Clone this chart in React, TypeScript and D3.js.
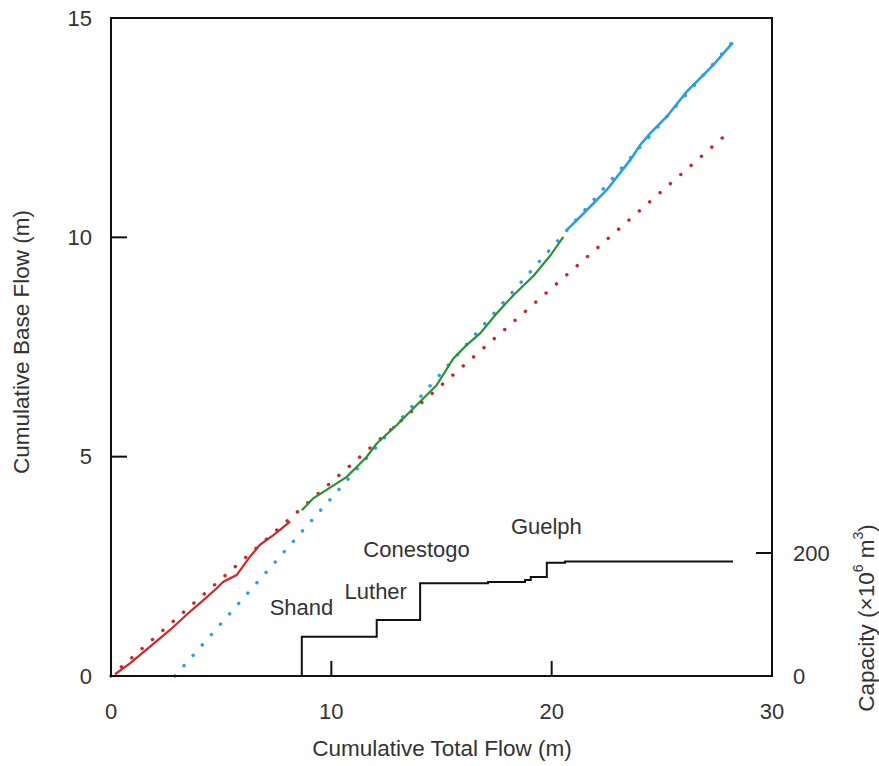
import * as d3 from 'd3';

// Solid series (cumulative total flow, cumulative base flow)
const redX = [0.18, 0.86, 1.77, 2.68, 3.59, 4.04, 4.8, 5.1, 5.7, 6.31, 6.76, 7.37, 8.13];
const redY = [0.04, 0.29, 0.67, 1.05, 1.47, 1.66, 2.0, 2.15, 2.3, 2.72, 2.99, 3.21, 3.52];

const greenX = [8.66, 9.18, 10.7, 11.61, 12.06, 12.97, 13.42, 14.18, 14.78, 15.54, 16.15, 16.75, 17.51, 18.26, 19.17, 19.93, 20.53];
const greenY = [3.78, 4.05, 4.54, 5.0, 5.3, 5.72, 5.95, 6.33, 6.63, 7.24, 7.55, 7.81, 8.27, 8.68, 9.12, 9.58, 10.01];

const blueX = [20.69, 21.14, 22.5, 23.56, 24.01, 24.47, 25.22, 26.13, 27.34, 28.22];
const blueY = [10.17, 10.39, 11.08, 11.76, 12.1, 12.37, 12.75, 13.32, 13.93, 14.44];

// Dotted fitted lines (end points)
const redFitX = [0, 28.0];
const redFitY = [0, 12.38];
const blueFitX = [2.9, 28.2];
const blueFitY = [0, 14.45];

// Reservoir capacity staircase (x10^6 m3)
const capX = [8.66, 8.66, 12.06, 14.03, 17.11, 18.79, 19.05, 19.78, 20.61, 28.23];
const capY = [0, 64, 91, 151, 153, 156, 161, 184, 186, 186];

const reservoirs = ['Shand', 'Luther', 'Conestogo', 'Guelph'];

const xTicks = [0, 10, 20, 30];
const yTicks = [0, 5, 10, 15];
const capTicks = [0, 200];

const W = 879;
const H = 766;
const left = 111;
const right = 772;
const top = 18;
const bottom = 676;

const font = '"Liberation Sans", Arial, sans-serif';
const textColor = '#333';

const App = () => {
  const x = d3.scaleLinear().domain([0, 30]).range([left, right]);
  const y = d3.scaleLinear().domain([0, 15]).range([bottom, top]);
  const cap = d3.scaleLinear().domain([0, 200]).range([bottom, 553]);

  const line = d3
    .line<[number, number]>()
    .x((d) => x(d[0]))
    .y((d) => y(d[1]));

  const zip = (a: number[], b: number[]) => a.map((v, i) => [v, b[i]] as [number, number]);

  const stepLine = d3
    .line<[number, number]>()
    .x((d) => x(d[0]))
    .y((d) => cap(d[1]))
    .curve(d3.curveStepAfter);

  // label anchors (data space, x in total flow, y in capacity)
  const labelPos: [number, number][] = [
    [7.2, 99],
    [10.6, 126],
    [11.45, 193],
    [18.15, 231],
  ];

  const dotted = {
    fill: 'none',
    strokeWidth: 3.4,
    strokeLinecap: 'round' as const,
    strokeDasharray: '0.1 13.7',
  };

  return (
    <svg width={W} height={H} style={{ position: 'absolute', left: 0, top: 0 }} fontFamily={font}>
      <rect width={W} height={H} fill="white" />

      {/* dotted fits */}
      <path d={line(zip(redFitX, redFitY)) ?? ''} stroke="#c9262c" {...dotted} />
      <path d={line(zip(blueFitX, blueFitY)) ?? ''} stroke="#2b9fe0" {...dotted} />

      {/* solid series */}
      <path d={line(zip(redX, redY)) ?? ''} fill="none" stroke="#d1262b" strokeWidth={2.2} />
      <path d={line(zip(greenX, greenY)) ?? ''} fill="none" stroke="#2a9234" strokeWidth={2.2} />
      <path d={line(zip(blueX, blueY)) ?? ''} fill="none" stroke="#2b9fe0" strokeWidth={2.6} />

      {/* capacity staircase */}
      <path d={stepLine(zip(capX, capY)) ?? ''} fill="none" stroke="#111" strokeWidth={2} />

      {reservoirs.map((name, i) => (
        <text
          key={name}
          x={x(labelPos[i][0])}
          y={cap(labelPos[i][1])}
          fontSize={22}
          fill={textColor}
        >
          {name}
        </text>
      ))}

      {/* frame */}
      <rect
        x={left}
        y={top}
        width={right - left}
        height={bottom - top}
        fill="none"
        stroke="#111"
        strokeWidth={2}
      />

      {/* bottom ticks */}
      {xTicks.slice(1, -1).map((t) => (
        <line key={t} x1={x(t)} x2={x(t)} y1={bottom} y2={bottom - 15} stroke="#111" strokeWidth={2} />
      ))}
      {xTicks.map((t) => (
        <text key={t} x={x(t)} y={711} fontSize={22} fill={textColor} textAnchor="middle" dominantBaseline="central">
          {t}
        </text>
      ))}

      {/* left ticks */}
      {yTicks.slice(1, -1).map((t) => (
        <line key={t} x1={left} x2={left + 16} y1={y(t)} y2={y(t)} stroke="#111" strokeWidth={2} />
      ))}
      {yTicks.map((t) => (
        <text key={t} x={92} y={y(t)} fontSize={22} fill={textColor} textAnchor="end" dominantBaseline="central">
          {t}
        </text>
      ))}

      {/* right capacity ticks */}
      {capTicks.slice(1).map((t) => (
        <line key={t} x1={right - 16} x2={right} y1={cap(t)} y2={cap(t)} stroke="#111" strokeWidth={2} />
      ))}
      {capTicks.map((t) => (
        <text key={t} x={793} y={cap(t)} fontSize={22} fill={textColor} dominantBaseline="central">
          {t}
        </text>
      ))}

      {/* axis titles */}
      <text x={442} y={748} fontSize={22.5} fill={textColor} textAnchor="middle" dominantBaseline="central">
        Cumulative Total Flow (m)
      </text>
      <text
        transform={`translate(21, 342) rotate(-90)`}
        fontSize={22.5}
        fill={textColor}
        textAnchor="middle"
        dominantBaseline="central"
      >
        Cumulative Base Flow (m)
      </text>
      <text
        transform={`translate(866, 618) rotate(-90)`}
        fontSize={22.5}
        fill={textColor}
        textAnchor="middle"
        dominantBaseline="central"
      >
        Capacity (×10<tspan dy={-8} fontSize={14}>6</tspan>
        <tspan dy={8}> m</tspan>
        <tspan dy={-8} fontSize={14}>3</tspan>
        <tspan dy={8}>)</tspan>
      </text>
    </svg>
  );
};

export default App;
